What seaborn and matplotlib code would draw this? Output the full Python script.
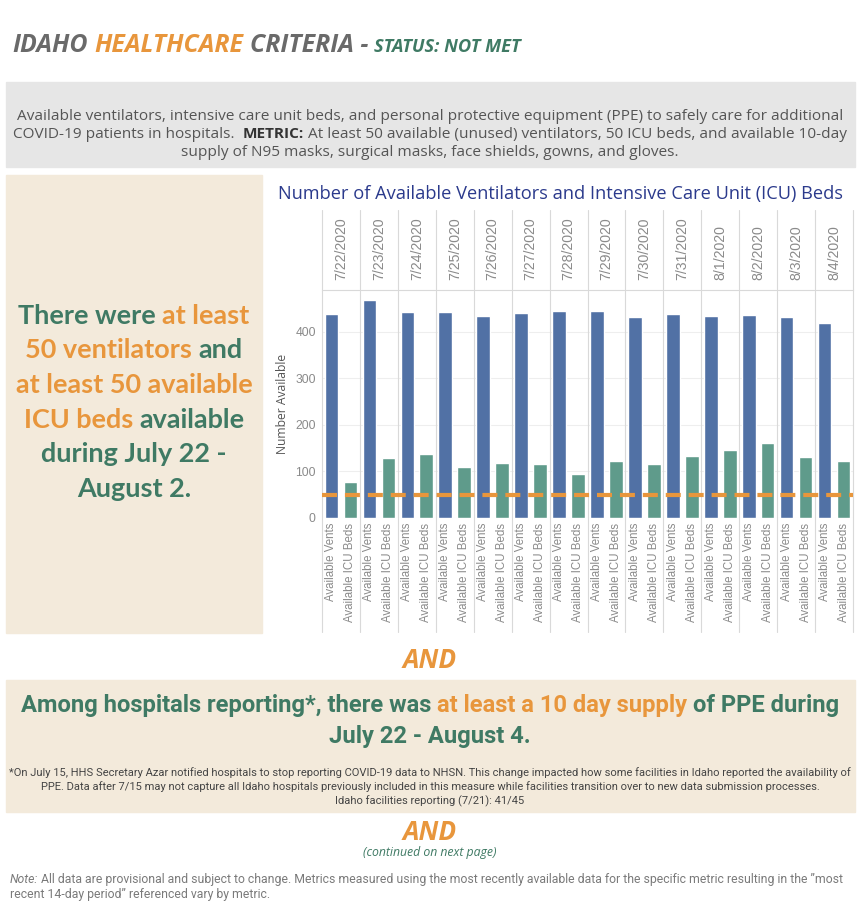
import matplotlib
matplotlib.use("Agg")
import matplotlib.pyplot as plt
import pandas as pd
import seaborn as sns
from matplotlib.patches import Rectangle

# data
dates = ["7/22/2020", "7/23/2020", "7/24/2020", "7/25/2020", "7/26/2020", "7/27/2020", "7/28/2020",
         "7/29/2020", "7/30/2020", "7/31/2020", "8/1/2020", "8/2/2020", "8/3/2020", "8/4/2020"]
vents = [439, 469, 443, 443, 435, 441, 444, 444, 433, 439, 435, 437, 433, 419]
icu_beds = [77, 128, 138, 110, 118, 116, 95, 123, 116, 134, 146, 161, 132, 123]
measures = ["Available Vents", "Available ICU Beds"]
threshold = 50

W, H = 860, 917
BLUE = "#5171a5"
TEAL = "#5f9b8b"
ORANGE = "#e8963c"
GREEN = "#3f7a64"
GREY = "#6a6a6a"
BEIGE = "#f3eadb"
NAVY = "#2b3a8c"
LINE = "#d9d9d9"
NARROW = ["Liberation Sans Narrow", "Roboto", "DejaVu Sans"]

sns.set_theme(style="white")
plt.rcParams["font.family"] = ["Open Sans", "DejaVu Sans"]

fig = plt.figure(figsize=(W / 100, H / 100), dpi=100)
fig.patch.set_facecolor("white")
r = fig.canvas.get_renderer()


def fx(x):
    return x / W


def fy(y):
    return 1 - y / H


def box(x0, y0, x1, y1, color):
    fig.add_artist(Rectangle((fx(x0), fy(y1)), (x1 - x0) / W, (y1 - y0) / H,
                             transform=fig.transFigure, color=color, zorder=0))


def width(s, **kw):
    a = fig.text(0, 0, "|" + s + "|", **kw)
    b = fig.text(0, 0, "||", **kw)
    w = a.get_window_extent(r).width - b.get_window_extent(r).width
    a.remove()
    b.remove()
    return w


def rich(x, y, parts, align="center", fit=None, **kw):
    # parts: (text, props) pieces drawn one after another on one baseline
    if fit is not None:
        total = sum(width(s, **{**kw, **p}) for s, p in parts)
        k = fit / total
        kw["fontsize"] = kw["fontsize"] * k
        parts = [(s, {**p, "fontsize": p["fontsize"] * k} if "fontsize" in p else p) for s, p in parts]
    ws = [width(s, **{**kw, **p}) for s, p in parts]
    x0 = x - sum(ws) / 2 if align == "center" else x
    for (s, p), w in zip(parts, ws):
        props = {**kw, **p}
        lead = s[:len(s) - len(s.lstrip())]
        if s.strip():
            fig.text(fx(x0 + width(lead, **props)), fy(y), s.strip(), ha="left", va="baseline", **props)
        x0 += w
    return kw["fontsize"]


# background panels
box(6, 82, 855, 167, "#e6e6e6")
box(6, 175, 262, 633, BEIGE)
box(6, 680, 855, 812, BEIGE)

# title
rich(12, 52, [("IDAHO ", {"color": GREY}), ("HEALTHCARE", {"color": ORANGE}),
              (" CRITERIA - ", {"color": GREY}), ("STATUS: NOT MET", {"color": GREEN, "fontsize": 13.2})],
     align="left", fit=510, fontsize=18, fontweight="bold", fontstyle="italic")

# description
desc = dict(fontsize=10.3, color="#555555")
dsize = rich(430, 120, [("Available ventilators, intensive care unit beds, and personal protective equipment "
                         "(PPE) to safely care for additional", {})], fit=818, **desc)
desc["fontsize"] = dsize
rich(430, 138, [("COVID-19 patients in hospitals.  ", {}), ("METRIC:", {"fontweight": "bold", "color": "#333333"}),
                (" At least 50 available (unused) ventilators, 50 ICU beds, and available 10-day", {})], **desc)
rich(430, 156, [("supply of N95 masks, surgical masks, face shields, gowns, and gloves.", {})], **desc)

# left panel statement
big = dict(family=["Lato", "DejaVu Sans"], fontsize=17.5, fontweight="bold")
G = {"color": GREEN}
O = {"color": ORANGE}
big["fontsize"] = rich(134, 324, [("There were ", G), ("at least", O)], fit=231, **big)
rich(134, 358, [("50 ventilators", O), (" and", G)], **big)
rich(134, 393, [("at least 50 available", O)], **big)
rich(134, 428, [("ICU beds", O), (" available", G)], **big)
rich(134, 462, [("during July 22 -", G)], **big)
rich(134, 497, [("August 2.", G)], **big)

# chart title
rich(561, 199, [("Number of Available Ventilators and Intensive Care Unit (ICU) Beds", {"color": NAVY})],
     fit=568, fontsize=11.5)

# chart
ax = fig.add_axes([fx(322), fy(518), 531 / W, 228 / H])
df = pd.DataFrame({"date": dates * 2,
                   "measure": [measures[0]] * len(dates) + [measures[1]] * len(dates),
                   "value": vents + icu_beds})
sns.barplot(data=df, x="date", y="value", hue="measure", hue_order=measures, palette=[BLUE, TEAL],
            width=1.0, gap=0.28, saturation=1, errorbar=None, legend=False, ax=ax, zorder=3)
ax.set_xlim(-0.5, len(dates) - 0.5)
ax.set_ylim(0, 490)
ax.set_yticks([0, 100, 200, 300, 400])
ax.grid(axis="y", color="#eeeeee", lw=0.8, zorder=0)
ax.tick_params(axis="y", labelsize=8.7, labelcolor="#8a8a8a", length=0, pad=4.5)
ax.set_ylabel("Number Available", fontsize=8.7, color="#555555")
ax.yaxis.set_label_coords(-0.062, 0.5)
ax.set_xlabel("")

pos, labs = [], []
for i in range(len(dates)):
    pos += [i - 0.25, i + 0.25]
    labs += measures
ax.set_xticks(pos, labs, rotation=90)
ax.tick_params(axis="x", labelsize=8.3, labelcolor="#8a8a8a", length=0, pad=3.5)
for t in ax.get_xticklabels():
    t.set_family(["Liberation Sans", "DejaVu Sans"])
for t in ax.get_yticklabels():
    t.set_family(["Liberation Sans", "DejaVu Sans"])

top = ax.secondary_xaxis("top")
top.set_xticks(range(len(dates)), dates, rotation=90)
top.tick_params(length=0, pad=7, labelsize=10.2, labelcolor="#8a8a8a")
for t in top.get_xticklabels():
    t.set_family(["Liberation Sans", "DejaVu Sans"])
top.spines["top"].set_visible(False)

for s in ["left", "right", "bottom"]:
    ax.spines[s].set_visible(False)
ax.spines["top"].set_color(LINE)
ax.spines["top"].set_linewidth(0.8)

for i in range(len(dates) + 1):
    ax.axvline(i - 0.5, ymin=-0.5, ymax=1.35, color=LINE, lw=0.8, clip_on=False, zorder=1)

ax.axhline(threshold, color=ORANGE, lw=3, ls=(0, (3.6, 1.9)), zorder=4)

# lower section
andkw = dict(fontsize=16, fontweight="bold", fontstyle="italic", color=ORANGE)
andkw["fontsize"] = rich(430, 668, [("AND", {})], fit=54, **andkw)

ppe = dict(family=NARROW, fontsize=18, fontweight="bold")
ppe["fontsize"] = rich(430, 712, [("Among hospitals reporting*, there was ", G), ("at least a 10 day supply", O),
                                  (" of PPE during", G)], fit=822, **ppe)
rich(430, 743, [("July 22 - August 4.", G)], **ppe)

foot = dict(family=NARROW, fontsize=7.5, color="#444444")
foot["fontsize"] = rich(430, 776, [("*On July 15, HHS Secretary Azar notified hospitals to stop reporting COVID-19 data "
                                    "to NHSN. This change impacted how some facilities in Idaho reported the "
                                    "availability of", {})], fit=838, **foot)
rich(430, 790, [("PPE. Data after 7/15 may not capture all Idaho hospitals previously included in this measure "
                 "while facilities transition over to new data submission processes.", {})], **foot)
rich(430, 804, [("Idaho facilities reporting (7/21): 41/45", {})], **foot)

rich(430, 840, [("AND", {})], **andkw)
rich(430, 856, [("(continued on next page)", {})], fit=135, fontsize=7, fontstyle="italic", color=GREEN)

note = dict(family=NARROW, fontsize=8.3, color="#7a7a7a")
note["fontsize"] = rich(10, 883, [("Note:", {"fontstyle": "italic"}),
                                  (" All data are provisional and subject to change. Metrics measured using the most "
                                   "recently available data for the specific metric resulting in the \u201dmost", {})],
                        align="left", fit=828, **note)
rich(10, 898, [("recent 14-day period\u201d referenced vary by metric.", {})], align="left", **note)

fig.savefig("out.png", dpi=100, facecolor="white")
